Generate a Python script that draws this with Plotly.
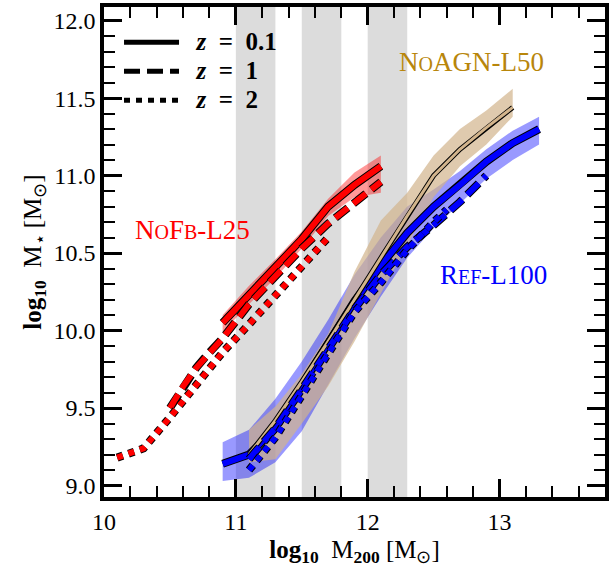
import plotly.graph_objects as go

# ---------------- data ----------------
bin_lo = [11.0, 11.5, 12.0]
bin_hi = [11.3, 11.8, 12.3]

# NoFb-L25 (red)
nofb_x0 = [10.9, 11.1, 11.3, 11.5, 11.7, 11.9, 12.1]
nofb_y0 = [10.05, 10.23, 10.40, 10.59, 10.80, 10.94, 11.06]
nofb_lo0 = [9.99, 10.17, 10.34, 10.53, 10.74, 10.86, 10.89]
nofb_hi0 = [10.10, 10.29, 10.46, 10.64, 10.85, 11.02, 11.13]
nofb_x1 = [10.5, 10.6, 10.7, 10.8, 10.9, 11.1, 11.3, 11.5, 11.7, 11.9, 12.1]
nofb_y1 = [9.50, 9.64, 9.76, 9.86, 9.95, 10.17, 10.35, 10.53, 10.69, 10.83, 10.96]
nofb_x2 = [10.1, 10.3, 10.5, 10.7, 10.9, 11.1, 11.3, 11.5, 11.7]
nofb_y2 = [9.18, 9.24, 9.44, 9.65, 9.86, 10.04, 10.23, 10.42, 10.60]

# Ref-L100 (blue)
ref_x0 = [10.9, 11.1, 11.3, 11.5, 11.7, 11.9, 12.1, 12.3, 12.5, 12.7, 12.9, 13.1, 13.3]
ref_y0 = [9.14, 9.20, 9.37, 9.65, 9.92, 10.19, 10.42, 10.63, 10.80, 10.94, 11.09, 11.21, 11.30]
ref_lo0 = [9.03, 9.05, 9.15, 9.35, 9.65, 9.95, 10.22, 10.47, 10.66, 10.82, 10.98, 11.10, 11.20]
ref_hi0 = [9.28, 9.36, 9.56, 9.80, 10.07, 10.36, 10.60, 10.80, 10.91, 11.03, 11.17, 11.29, 11.38]
ref_x1 = [11.1, 11.3, 11.5, 11.7, 11.9, 12.1, 12.3, 12.5, 12.7, 12.9]
ref_y1 = [9.17, 9.37, 9.62, 9.88, 10.14, 10.36, 10.54, 10.68, 10.83, 11.00]
ref_x2 = [11.1, 11.3, 11.5, 11.7, 11.9, 12.1, 12.3, 12.5, 12.6]
ref_y2 = [9.10, 9.31, 9.58, 9.85, 10.12, 10.31, 10.52, 10.70, 10.78]

# NoAGN-L50 (tan)
noagn_x0 = [11.1, 11.3, 11.5, 11.7, 11.9, 12.1, 12.3, 12.5, 12.7, 12.9, 13.1]
noagn_y0 = [9.20, 9.42, 9.67, 9.93, 10.20, 10.47, 10.74, 11.00, 11.17, 11.31, 11.44]
noagn_lo0 = [9.15, 9.17, 9.40, 9.64, 9.93, 10.24, 10.55, 10.86, 11.06, 11.20, 11.38]
noagn_hi0 = [9.36, 9.51, 9.72, 9.98, 10.38, 10.71, 10.89, 11.13, 11.30, 11.42, 11.56]

legend_names = ["0.1", "1", "2"]
legend_dash = ["solid", "16px,7px", "6px,6px"]

FONT = "Liberation Serif"
RED, BLUE, TAN = "#ff0000", "#0000ff", "#d2b48c"

fig = go.Figure()

def band(x, lo, hi, color):
    fig.add_trace(go.Scatter(x=list(x) + list(x)[::-1], y=list(hi) + list(lo)[::-1],
                             fill="toself", fillcolor=color, line=dict(width=0),
                             mode="lines", hoverinfo="skip", showlegend=False))

def outlined(x, y, color, width, dash="solid", edge=2):
    fig.add_trace(go.Scatter(x=x, y=y, mode="lines", showlegend=False,
                             line=dict(color="black", width=width + edge, dash=dash)))
    fig.add_trace(go.Scatter(x=x, y=y, mode="lines", showlegend=False,
                             line=dict(color=color, width=width, dash=dash)))

band(ref_x0, ref_lo0, ref_hi0, "rgba(0,0,255,0.4)")
band(noagn_x0, noagn_lo0, noagn_hi0, "rgba(210,180,140,0.7)")
band(nofb_x0, nofb_lo0, nofb_hi0, "rgba(255,0,0,0.4)")

outlined(ref_x0, ref_y0, BLUE, 6)
outlined(noagn_x0, noagn_y0, TAN, 3, edge=2)
outlined(nofb_x0, nofb_y0, RED, 6)
outlined(ref_x1, ref_y1, BLUE, 6, dash="16px,7px")
outlined(nofb_x1, nofb_y1, RED, 6, dash="16px,7px")
outlined(ref_x2, ref_y2, BLUE, 6, dash="6px,6px")
outlined(nofb_x2, nofb_y2, RED, 6, dash="6px,6px")

for name, dash in zip(legend_names, legend_dash):
    label = (f"<span style='font-size:25px'>&nbsp;&nbsp;<b><i>z</i>&nbsp;&nbsp;=&nbsp;&nbsp;{name}</b></span>")
    fig.add_trace(go.Scatter(x=[None], y=[None], mode="lines", name=label,
                             line=dict(color="black", width=5, dash=dash)))

for lo, hi in zip(bin_lo, bin_hi):
    fig.add_vrect(x0=lo, x1=hi, fillcolor="#dcdcdc", line_width=0, layer="below")

def smallcaps(parts):
    out = ""
    for txt, small in parts:
        out += f"<span style='font-size:20px'>{txt}</span>" if small else txt
    return out

fig.add_annotation(x=10.67, y=10.65, text=smallcaps([("N", 0), ("O", 1), ("F", 0), ("B", 1), ("-L25", 0)]),
                   showarrow=False, font=dict(family=FONT, size=27, color=RED))
fig.add_annotation(x=12.79, y=11.735, text=smallcaps([("N", 0), ("O", 1), ("AGN-L50", 0)]),
                   showarrow=False, font=dict(family=FONT, size=27, color="#b8860b"))
fig.add_annotation(x=12.955, y=10.36, text=smallcaps([("R", 0), ("EF", 1), ("-L100", 0)]),
                   showarrow=False, font=dict(family=FONT, size=27, color=BLUE))

axis_common = dict(showline=True, linecolor="black", linewidth=3.5, mirror="allticks",
                   ticks="inside", ticklen=18, tickwidth=3, tickcolor="black",
                   showgrid=False, zeroline=False,
                   tickfont=dict(family=FONT, size=24, color="black"))

fig.update_xaxes(range=[10, 13.8], tickvals=[10, 11, 12, 13], ticktext=["10", "11", "12", "13"],
                 minor=dict(dtick=0.2, tick0=10, ticks="inside", ticklen=11, tickwidth=1.5, tickcolor="black"),
                 title=dict(text="<b>log<sub>10</sub></b>  M<sub><b>200</b></sub> [M<sub>⊙</sub>]",
                            font=dict(family=FONT, size=25, color="black"), standoff=8),
                 **axis_common)
fig.update_yaxes(range=[8.926, 12.088], tickvals=[9.0, 9.5, 10.0, 10.5, 11.0, 11.5, 12.0],
                 ticktext=["9.0", "9.5", "10.0", "10.5", "11.0", "11.5", "12.0"],
                 minor=dict(dtick=0.1, tick0=9.0, ticks="inside", ticklen=11, tickwidth=1.5, tickcolor="black"),
                 title=dict(text="<b>log<sub>10</sub></b>  M<sub>⋆</sub> [M<sub>⊙</sub>]",
                            font=dict(family=FONT, size=25, color="black"), standoff=6),
                 **axis_common)

fig.update_layout(width=612, height=572, margin=dict(l=104, r=3, t=7, b=75),
                  plot_bgcolor="white", paper_bgcolor="white",
                  legend=dict(x=0.03, y=0.968, xanchor="left", yanchor="top", bgcolor="rgba(0,0,0,0)",
                              font=dict(family=FONT, size=20, color="black"), tracegroupgap=0,
                              itemwidth=55))

fig.write_html("out.html")
